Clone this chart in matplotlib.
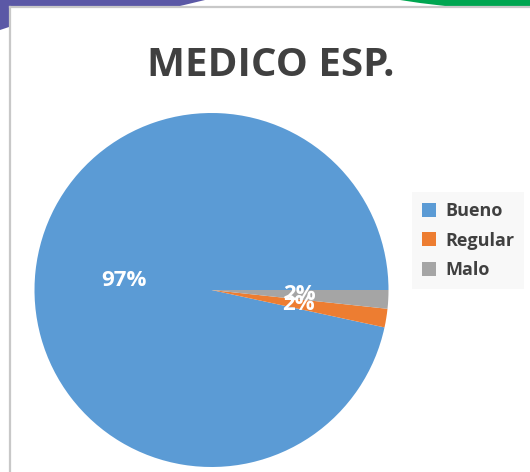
import matplotlib
matplotlib.use('agg')
import matplotlib.pyplot as plt
from matplotlib.patches import Polygon, Patch
from matplotlib.lines import Line2D

# Data
categories = ['Bueno', 'Regular', 'Malo']
values = [57, 1, 1]
colors = ['#5b9bd5', '#ed7d31', '#a5a5a5']
title = 'MEDICO ESP.'

W, H = 530, 472


def px(x, y):
    # pixel coords (from top-left) -> figure fraction
    return (x / W, 1 - y / H)


fig = plt.figure(figsize=(W / 100, H / 100), dpi=100)
fig.patch.set_facecolor('white')

# Slide decorations behind the chart
purple = Polygon([px(0, 0), px(205, 0), px(180, 6), px(9, 6), px(9, 27), px(0, 30)],
                 closed=True, transform=fig.transFigure, facecolor='#5b58a6', edgecolor='none')
green = Polygon([px(400, 0), px(530, 0), px(530, 6), px(445, 6), px(420, 3)],
                closed=True, transform=fig.transFigure, facecolor='#00a651', edgecolor='none')
fig.add_artist(purple)
fig.add_artist(green)

# Chart frame border
fig.add_artist(Line2D([9.5 / W, 9.5 / W], [1 - 6.5 / H, 0], transform=fig.transFigure,
                      color='#c8c8c8', linewidth=1.6))
fig.add_artist(Line2D([9.5 / W, 1], [1 - 6.5 / H, 1 - 6.5 / H], transform=fig.transFigure,
                      color='#c8c8c8', linewidth=1.6))

# Title
fig.text(271 / W, 1 - 76 / H, title, ha='center', va='baseline',
         fontsize=29, fontweight='bold', color='#404040', family='Open Sans')

# Pie
r = 177
cx, cy = 211.5, 290
ax = fig.add_axes([(cx - r) / W, (H - cy - r) / H, 2 * r / W, 2 * r / H])
wedges, texts, autotexts = ax.pie(values, colors=colors, startangle=0, counterclock=True,
                                  autopct='%1.0f%%', pctdistance=0.5,
                                  wedgeprops=dict(linewidth=0),
                                  textprops=dict(color='white', fontsize=16,
                                                 fontweight='bold', family='Open Sans'))
ax.set_xlim(-1, 1)
ax.set_ylim(-1, 1)
ax.set_aspect('equal')
ax.axis('off')

# Legend
handles = [Patch(facecolor=c, edgecolor='none') for c in colors]
leg = fig.legend(handles, categories, loc='upper left',
                 bbox_to_anchor=px(412, 192), bbox_transform=fig.transFigure,
                 borderaxespad=0,
                 frameon=True, fancybox=False, facecolor='#f8f8f8', edgecolor='none',
                 framealpha=1, handlelength=0.8, handleheight=0.8, handletextpad=0.5,
                 labelspacing=0.65, borderpad=0.55,
                 prop=dict(family='Open Sans', weight='bold', size=13))
for t in leg.get_texts():
    t.set_color('#404040')

fig.savefig('out.png', dpi=100)
